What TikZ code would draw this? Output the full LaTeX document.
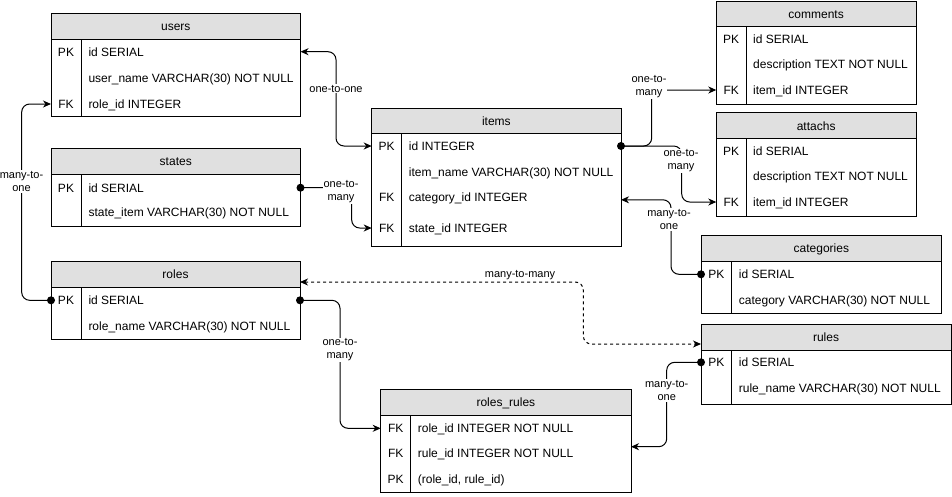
\documentclass[tikz,border=0pt]{standalone}
\usepackage{fontspec}
\setmainfont{Liberation Sans}
\usetikzlibrary{arrows.meta,calc}
\definecolor{hdrgray}{RGB}{224,224,224}
\tikzset{
  lw/.style={line width=1pt},
  boxnode/.style={draw, line width=1pt, inner sep=0pt, outer sep=0pt, anchor=north west},
  titlecell/.style={font=\fontsize{12}{14}\selectfont, inner sep=0pt, text height=8.6pt, text depth=0pt},
  keycell/.style={titlecell, anchor=center},
  rowcell/.style={titlecell, anchor=west},
  rel/.style={font=\fontsize{11}{13}\selectfont, fill=white, align=center, inner sep=1pt},
  conn/.style={line width=1pt, rounded corners=8pt},
  tipA/.style={-{Stealth[length=8pt,width=7pt,inset=2.5pt]}},
  tipB/.style={{Stealth[length=8pt,width=7pt,inset=2.5pt]}-{Stealth[length=8pt,width=7pt,inset=2.5pt]}},
  dashline/.style={dash pattern=on 3pt off 3pt},
}
% name, left, top, right, header bottom, bottom, divider x, title
\newcommand\erbox[8]{%
  \fill[hdrgray] (#2,#3) rectangle (#4,#5);
  \node[boxnode, minimum width={(#4-#2)*1pt}, minimum height={(#6-#3)*1pt}] (#1) at (#2,#3) {};
  \draw[lw] (#2,#5) -- (#4,#5) (#7,#5) -- (#7,#6);
  \node[titlecell] (#1-t) at ($(#2,#3)!0.5!(#4,#5)$) {#8};
}
% name, key x, text x, y, key, text
\newcommand\errow[6]{%
  \node[keycell] (#1-k) at (#2,#4) {#5};
  \node[rowcell] (#1) at (#3,#4) {#6};
}
\begin{document}
\begin{tikzpicture}[x=1pt,y=-1pt]
\useasboundingbox (0,0) rectangle (952,496);

% users
\erbox{users}{51}{13.3}{300.5}{39.3}{116.7}{81.3}{users}
\errow{u1}{66}{88.3}{51.7}{PK}{id SERIAL}
\errow{u2}{66}{88.3}{77.7}{}{user\_name VARCHAR(30) NOT NULL}
\errow{u3}{66}{88.3}{104}{FK}{role\_id INTEGER}

% states
\erbox{states}{51}{148.3}{300.5}{174.3}{226.7}{81.3}{states}
\errow{s1}{66}{88.3}{187.7}{PK}{id SERIAL}
\errow{s2}{66}{88.3}{212.3}{}{state\_item VARCHAR(30) NOT NULL}

% roles
\erbox{roles}{51}{261.7}{300}{287.3}{339.3}{81.3}{roles}
\errow{r1}{66}{88.3}{300.3}{PK}{id SERIAL}
\errow{r2}{66}{88.3}{326}{}{role\_name VARCHAR(30) NOT NULL}

% items
\erbox{items}{371.7}{108.3}{621}{133.3}{246.7}{401.7}{items}
\errow{i1}{386.7}{408.7}{146}{PK}{id INTEGER}
\errow{i2}{386.7}{408.7}{171.7}{}{item\_name VARCHAR(30) NOT NULL}
\errow{i3}{386.7}{408.7}{197.3}{FK}{category\_id INTEGER}
\errow{i4}{386.7}{408.7}{228}{FK}{state\_id INTEGER}

% comments
\erbox{comments}{716.3}{1}{916}{26.7}{104.3}{746}{comments}
\errow{c1}{731.2}{753}{38.7}{PK}{id SERIAL}
\errow{c2}{731.2}{753}{64.3}{}{description TEXT NOT NULL}
\errow{c3}{731.2}{753}{90}{FK}{item\_id INTEGER}

% attachs
\erbox{attachs}{716.3}{112.7}{916}{138.7}{216}{746}{attachs}
\errow{a1}{731.2}{753}{150.7}{PK}{id SERIAL}
\errow{a2}{731.2}{753}{176}{}{description TEXT NOT NULL}
\errow{a3}{731.2}{753}{202}{FK}{item\_id INTEGER}

% categories
\erbox{categories}{701}{235}{941.7}{261}{313.3}{731.7}{categories}
\errow{cat1}{716.3}{738.7}{274.3}{PK}{id SERIAL}
\errow{cat2}{716.3}{738.7}{300}{}{category VARCHAR(30) NOT NULL}

% rules
\erbox{rules}{701}{324.3}{951}{350.3}{404.5}{731.7}{rules}
\errow{ru1}{716.3}{738.7}{362.3}{PK}{id SERIAL}
\errow{ru2}{716.3}{738.7}{388.3}{}{rule\_name VARCHAR(30) NOT NULL}

% roles_rules
\erbox{rr}{380.7}{389.3}{631}{415}{492}{410.7}{roles\_rules}
\errow{rr1}{395.7}{417.7}{428.3}{FK}{role\_id INTEGER NOT NULL}
\errow{rr2}{395.7}{417.7}{453.3}{FK}{rule\_id INTEGER NOT NULL}
\errow{rr3}{395.7}{417.7}{479.3}{PK}{(role\_id, rule\_id)}

% connectors
\draw[conn, tipB] (users.east |- u1) -- ++(35.5,0) |- (items.west |- i1);
\draw[conn, tipA] (roles.west |- r1) -- ++(-29.3,0) |- (users.west |- u3);
\draw[conn, tipA] (states.east |- s1) -- ++(51.2,0) |- (items.west |- i4);
\draw[conn, tipA] (items.east |- i1) -- ++(30.7,0) |- (comments.west |- c3);
\draw[conn, tipA] (items.east |- i1) -- ++(60.7,0) |- (attachs.west |- a3);
\draw[conn, tipA] (categories.west |- cat1) -- ++(-30,0) |- ($(items.east |- i3)+(0,2.5)$);
\draw[conn, tipA] (roles.east |- r1) -- ++(40,0) |- (rr.west |- rr1);
\draw[conn, tipA] (rules.west |- ru1) -- ++(-34.3,0) |- ($(rr.east |- rr2)+(0,-6.6)$);
\draw[conn, dashline, tipB] ($(roles.east |- roles-t)+(0,7.5)$) -- ++(283.3,0) |- ($(rules.west |- rules-t)+(0,6.7)$);

% dots
\fill (roles.west |- r1) circle (4pt);
\fill (states.east |- s1) circle (4pt);
\fill (items.east |- i1) circle (4pt);
\fill (categories.west |- cat1) circle (4pt);
\fill (roles.east |- r1) circle (4pt);
\fill (rules.west |- ru1) circle (4pt);

% labels
\node[rel] (l1) at (336,88.5) {one-to-one};
\node[rel] (l2) at (21.5,181.5) {many-to-\\one};
\node[rel] (l3) at (341,191.5) {one-to-\\many};
\node[rel] (l4) at (649,87) {one-to-\\many};
\node[rel] (l5) at (681,161) {one-to-\\many};
\node[rel] (l6) at (669,219.5) {many-to-\\one};
\node[rel] (l7) at (340,350) {one-to-\\many};
\node[rel] (l8) at (666.7,390.5) {many-to-\\one};
\node[rel, fill=none] (l9) at (520,275) {many-to-many};
\end{tikzpicture}
\end{document}
